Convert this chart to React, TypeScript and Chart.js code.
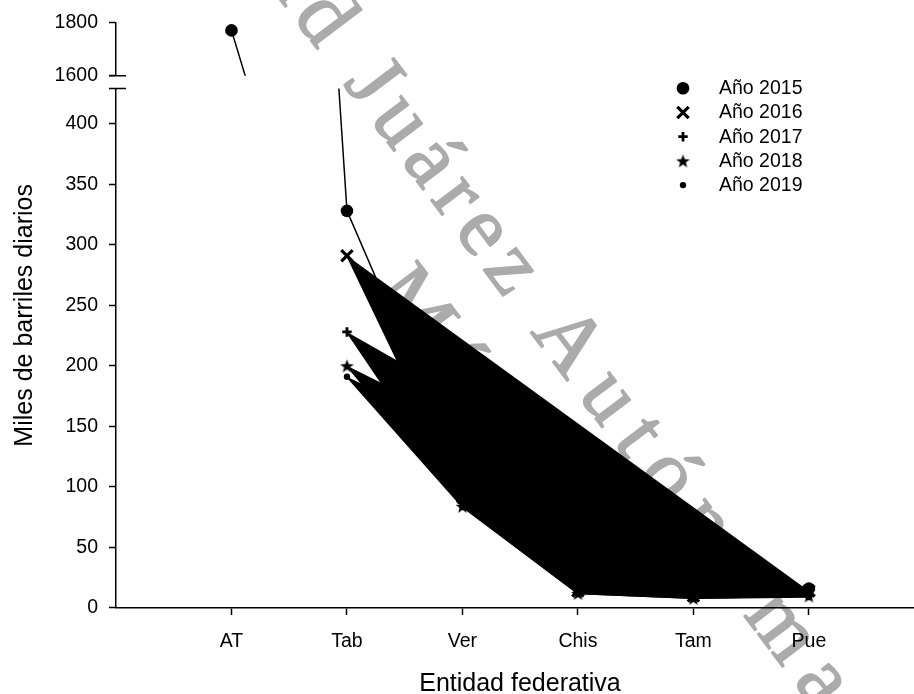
import React, { useEffect, useRef } from 'react';
import { Chart, registerables } from 'chart.js';

Chart.register(...registerables);

// Oil output by federal entity (thousand barrels per day)
const categories = ['AT', 'Tab', 'Ver', 'Chis', 'Tam', 'Pue'];
const seriesNames = ['Año 2015', 'Año 2016', 'Año 2017', 'Año 2018', 'Año 2019'];
const values2015: (number | null)[] = [1771, 328, 107, 22, 14, 16];
const values2016: (number | null)[] = [null, 291, 92, 14, 10, 14];
const values2017: (number | null)[] = [null, 228, 87, 13, 9, 11];
const values2018: (number | null)[] = [null, 200, 84, 12, 8, 10];
const values2019: (number | null)[] = [null, 191, 83.5, 12, 8, 9];

// Broken value axis: lower and upper segments
const lowRange = [0, 429];
const highRange = [1600, 1800];
const lowTicks = [0, 50, 100, 150, 200, 250, 300, 350, 400];
const highTicks = [1600, 1800];

const xTitle = 'Entidad federativa';
const yTitle = 'Miles de barriles diarios';
const watermarkHead = 'Universidad Juárez ';
const watermarkTail = 'Autónoma de Tabasco';
const watermarkSecond = 'México';

const SANS = '"Liberation Sans", Arial, sans-serif';
const SERIF = '"Liberation Serif", "DejaVu Serif", serif';
const BLACK = '#000000';
const WATERMARK_GRAY = '#ababab';

type MarkerKind = 'circle' | 'x' | 'plus' | 'star' | 'dot';
const markerKinds: MarkerKind[] = ['circle', 'x', 'plus', 'star', 'dot'];

function makeStar(outer: number, inner: number): HTMLCanvasElement {
  const size = Math.ceil(outer * 2 + 2);
  const c = document.createElement('canvas');
  c.width = size;
  c.height = size;
  const g = c.getContext('2d')!;
  const cx = size / 2;
  const cy = size / 2 + 0.6;
  g.beginPath();
  for (let i = 0; i < 10; i++) {
    const r = i % 2 === 0 ? outer : inner;
    const a = -Math.PI / 2 + (i * Math.PI) / 5;
    const px = cx + r * Math.cos(a);
    const py = cy + r * Math.sin(a);
    if (i === 0) g.moveTo(px, py);
    else g.lineTo(px, py);
  }
  g.closePath();
  g.fillStyle = BLACK;
  g.fill();
  return c;
}

function toPoints(vals: (number | null)[]) {
  const pts: { x: number; y: number }[] = [];
  vals.forEach((v, i) => {
    if (v !== null) pts.push({ x: i + 1, y: v });
  });
  return pts;
}

function markerProps(kind: MarkerKind, star: HTMLCanvasElement) {
  switch (kind) {
    case 'circle':
      return { pointStyle: 'circle', pointRadius: 6.3, pointBorderWidth: 0, pointBackgroundColor: BLACK, pointBorderColor: BLACK };
    case 'x':
      return { pointStyle: 'crossRot', pointRadius: 8, pointBorderWidth: 3.2, pointBackgroundColor: BLACK, pointBorderColor: BLACK };
    case 'plus':
      return { pointStyle: 'cross', pointRadius: 4.7, pointBorderWidth: 2.8, pointBackgroundColor: BLACK, pointBorderColor: BLACK };
    case 'star':
      return { pointStyle: star, pointRadius: 7, pointBorderWidth: 0, pointBackgroundColor: BLACK, pointBorderColor: BLACK };
    default:
      return { pointStyle: 'circle', pointRadius: 3.2, pointBorderWidth: 0, pointBackgroundColor: BLACK, pointBorderColor: BLACK };
  }
}

function drawLegendMarker(ctx: CanvasRenderingContext2D, kind: MarkerKind, x: number, y: number, star: HTMLCanvasElement) {
  ctx.save();
  ctx.fillStyle = BLACK;
  ctx.strokeStyle = BLACK;
  if (kind === 'circle' || kind === 'dot') {
    ctx.beginPath();
    ctx.arc(x, y, kind === 'circle' ? 6.3 : 3.2, 0, Math.PI * 2);
    ctx.fill();
  } else if (kind === 'x') {
    const h = 8 * Math.SQRT1_2;
    ctx.lineWidth = 3.2;
    ctx.beginPath();
    ctx.moveTo(x - h, y - h);
    ctx.lineTo(x + h, y + h);
    ctx.moveTo(x + h, y - h);
    ctx.lineTo(x - h, y + h);
    ctx.stroke();
  } else if (kind === 'plus') {
    ctx.lineWidth = 2.8;
    ctx.beginPath();
    ctx.moveTo(x - 4.7, y);
    ctx.lineTo(x + 4.7, y);
    ctx.moveTo(x, y - 4.7);
    ctx.lineTo(x, y + 4.7);
    ctx.stroke();
  } else {
    ctx.drawImage(star, x - star.width / 2, y - star.height / 2);
  }
  ctx.restore();
}

function paintText(ctx: CanvasRenderingContext2D, text: string, x: number, y: number) {
  ctx.fillText(text, x, y);
  ctx.strokeText(text, x, y);
}

export default function App() {
  const canvasRef = useRef<HTMLCanvasElement | null>(null);

  useEffect(() => {
    const canvas = canvasRef.current;
    if (!canvas) return;
    const star = makeStar(7.2, 3.0);

    const seriesValues = [values2015, values2016, values2017, values2018, values2019];

    const datasets: any[] = [];
    // 2015 spans both segments, so it is drawn once per value axis
    (['yHigh', 'yLow'] as const).forEach((axisId) => {
      datasets.push({
        label: seriesNames[0],
        data: toPoints(values2015),
        yAxisID: axisId,
        borderColor: BLACK,
        borderWidth: 1.5,
        fill: false,
        tension: 0,
        ...markerProps('circle', star),
      });
    });
    for (let s = 1; s < seriesValues.length; s++) {
      datasets.push({
        label: seriesNames[s],
        data: toPoints(seriesValues[s]),
        yAxisID: 'yLow',
        borderColor: BLACK,
        backgroundColor: BLACK,
        borderWidth: 1.5,
        fill: 'shape',
        tension: 0,
        ...markerProps(markerKinds[s], star),
      });
    }

    const tickFont = { family: SANS, size: 19.5 };
    const axisWidth = 116;

    const yCommon = {
      type: 'linear',
      position: 'left',
      stack: 'values',
      afterFit: (scale: any) => {
        scale.width = axisWidth;
      },
      ticks: { color: BLACK, font: tickFont, padding: 11, callback: (v: any) => String(v) },
      grid: { drawOnChartArea: false, drawTicks: true, tickLength: 7, tickColor: BLACK, tickWidth: 1.5 },
      border: { color: BLACK, width: 1.5 },
    };

    const overlay = {
      id: 'overlay',
      beforeDraw(chart: any) {
        const ctx: CanvasRenderingContext2D = chart.ctx;
        ctx.save();
        ctx.fillStyle = '#ffffff';
        ctx.fillRect(0, 0, chart.width, chart.height);
        // watermark, anchored at the start of the second word group
        ctx.fillStyle = WATERMARK_GRAY;
        ctx.strokeStyle = WATERMARK_GRAY;
        ctx.lineWidth = 1.6;
        ctx.lineJoin = 'round';
        ctx.font = `86px ${SERIF}`;
        ctx.textBaseline = 'alphabetic';
        ctx.translate(530, 332);
        ctx.rotate((53 * Math.PI) / 180);
        (ctx as any).letterSpacing = '10px';
        const headW = ctx.measureText(watermarkHead).width;
        paintText(ctx, watermarkHead, -headW, 0);
        paintText(ctx, watermarkSecond, -128, 103);
        (ctx as any).letterSpacing = '16px';
        paintText(ctx, watermarkTail, 0, 0);
        ctx.restore();
      },
      afterDraw(chart: any) {
        const ctx: CanvasRenderingContext2D = chart.ctx;
        const area = chart.chartArea;
        const hi = chart.scales.yHigh;
        const lo = chart.scales.yLow;
        ctx.save();
        // axis break marks
        ctx.strokeStyle = BLACK;
        ctx.lineWidth = 1.5;
        ctx.beginPath();
        ctx.moveTo(area.left - 7, hi.bottom);
        ctx.lineTo(area.left + 10, hi.bottom);
        ctx.moveTo(area.left - 7, lo.top);
        ctx.lineTo(area.left + 10, lo.top);
        ctx.stroke();

        // axis titles
        ctx.fillStyle = BLACK;
        ctx.font = `25px ${SANS}`;
        ctx.textAlign = 'center';
        ctx.textBaseline = 'alphabetic';
        ctx.fillText(xTitle, 520, 691);
        ctx.save();
        ctx.translate(31.5, (area.top + area.bottom) / 2);
        ctx.rotate(-Math.PI / 2);
        ctx.fillText(yTitle, 0, 0);
        ctx.restore();

        // legend
        ctx.font = `19.5px ${SANS}`;
        ctx.textAlign = 'left';
        ctx.textBaseline = 'middle';
        seriesNames.forEach((name, i) => {
          const y = 88.3 + i * 24.2;
          drawLegendMarker(ctx, markerKinds[i], 683, y, star);
          ctx.fillStyle = BLACK;
          ctx.fillText(name, 719, y + 0.5);
        });
        ctx.restore();
      },
    };

    const chart = new Chart(canvas, {
      type: 'line',
      data: { datasets },
      options: {
        responsive: false,
        animation: false,
        events: [],
        layout: { autoPadding: false, padding: { top: 22, left: 0, right: 0, bottom: 0 } },
        plugins: {
          legend: { display: false },
          tooltip: { enabled: false },
          title: { display: false },
        },
        scales: {
          x: {
            type: 'linear',
            position: 'bottom',
            min: 0,
            max: 6.91,
            afterBuildTicks: (scale: any) => {
              scale.ticks = categories.map((_, i) => ({ value: i + 1 }));
            },
            afterFit: (scale: any) => {
              scale.height = 86;
              scale.paddingLeft = 0;
              scale.paddingRight = 0;
            },
            ticks: {
              color: BLACK,
              font: tickFont,
              padding: 15,
              maxRotation: 0,
              autoSkip: false,
              callback: (v: any) => categories[Math.round(Number(v)) - 1] ?? '',
            },
            grid: { drawOnChartArea: false, drawTicks: true, tickLength: 7, tickColor: BLACK, tickWidth: 1.5 },
            border: { color: BLACK, width: 1.5 },
          },
          yHigh: {
            ...yCommon,
            weight: 3,
            stackWeight: 53,
            min: highRange[0],
            max: highRange[1],
            afterBuildTicks: (scale: any) => {
              scale.ticks = highTicks.map((v) => ({ value: v }));
            },
          },
          yGap: {
            type: 'linear',
            position: 'left',
            stack: 'values',
            weight: 2,
            stackWeight: 13,
            afterFit: (scale: any) => {
              scale.width = axisWidth;
            },
            ticks: { display: false },
            grid: { display: false },
            border: { display: false },
          },
          yLow: {
            ...yCommon,
            weight: 1,
            stackWeight: 520,
            min: lowRange[0],
            max: lowRange[1],
            afterBuildTicks: (scale: any) => {
              scale.ticks = lowTicks.map((v) => ({ value: v }));
            },
          },
        } as any,
      },
      plugins: [overlay],
    } as any);

    return () => chart.destroy();
  }, []);

  return (
    <div style={{ position: 'absolute', left: 0, top: 0, width: 914, height: 694 }}>
      <canvas ref={canvasRef} width={914} height={694} style={{ display: 'block', width: 914, height: 694 }} />
    </div>
  );
}
